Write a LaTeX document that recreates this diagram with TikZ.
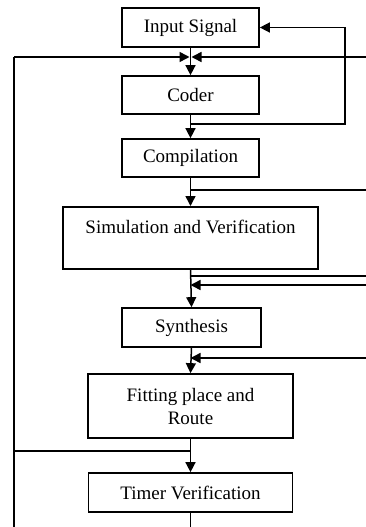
\documentclass[tikz,border=0pt]{standalone}
\usepackage{fontspec}
\setmainfont{Liberation Serif}
\usetikzlibrary{arrows.meta}
\begin{document}
\begin{tikzpicture}[x=1pt,y=-1pt,
  box/.style={draw,line width=1.7pt,minimum width=#1,inner sep=0pt,font=\fontsize{19}{23}\selectfont,align=center},
  ln/.style={line width=1.5pt},
  arr/.style={ln,-{Triangle[length=10pt,width=10pt]}}]
\useasboundingbox (0,0) rectangle (366,527);
\node[box=137pt,minimum height=39pt] (in) at (190.5,27.5) {Input Signal};
\node[box=137pt,minimum height=38pt] (coder) at (190.5,95) {Coder};
\node[box=137pt,minimum height=38pt] (comp) at (190.5,158) {Compilation};
\node[box=255pt,minimum height=62pt,anchor=north] (sim) at (190.5,206) {};
\node (simt) at (190.5,227) [font=\fontsize{19}{23}\selectfont,inner sep=0pt] {Simulation and Verification};
\node[box=139pt,minimum height=39pt] (syn) at (191.5,327.5) {Synthesis};
\node[box=205pt,minimum height=64pt] (fit) at (190.5,406) {Fitting place and\\Route};
\node[box=204pt,minimum height=39pt] (tim) at (190.5,492.5) {Timer Verification};
% spine junction coordinates
\coordinate (j57) at (190.5,57);
\coordinate (j124) at (190.5,124);
\coordinate (j190) at (190.5,190);
\coordinate (j276) at (190.5,276);
\coordinate (j285) at (190.5,285);
\coordinate (j358) at (190.5,358);
\coordinate (j451) at (190.5,451);
\coordinate (bot) at (190.5,527);
\coordinate (lb) at (14,527);
\coordinate (lt) at (14,57);
\coordinate (ll) at (14,451);
\coordinate (fbr) at (345,124);
\coordinate (fbt) at (345,27.5);
\coordinate (r57) at (366,57);
\coordinate (r190) at (366,190);
\coordinate (r276) at (366,276);
\coordinate (r285) at (366,285);
\coordinate (r358) at (366,358);
% main flow
\draw[arr] (in.south) -- (coder.north);
\draw[arr] (coder.south) -- (comp.north);
\draw[arr] (comp.south) -- (sim.north);
\draw[arr] (sim.south) -- (syn.north);
\draw[arr] (syn.south) -- (fit.north);
\draw[arr] (fit.south) -- (tim.north);
\draw[ln] (tim.south) -- (bot);
% left loop
\draw[ln] (lb) -- (lt);
\draw[arr] (lt) -- ([xshift=-1pt]j57);
\draw[ln] (ll) -- (j451);
% right inputs
\draw[arr] (r57) -- ([xshift=1pt]j57);
\draw[ln] (r190) -- (j190);
\draw[ln] (r276) -- (j276);
\draw[arr] (r285) -- (j285);
\draw[arr] (r358) -- (j358);
% feedback to input
\draw[arr] (j124) -- (fbr) -- (fbt) -- (in.east);
\end{tikzpicture}
\end{document}
